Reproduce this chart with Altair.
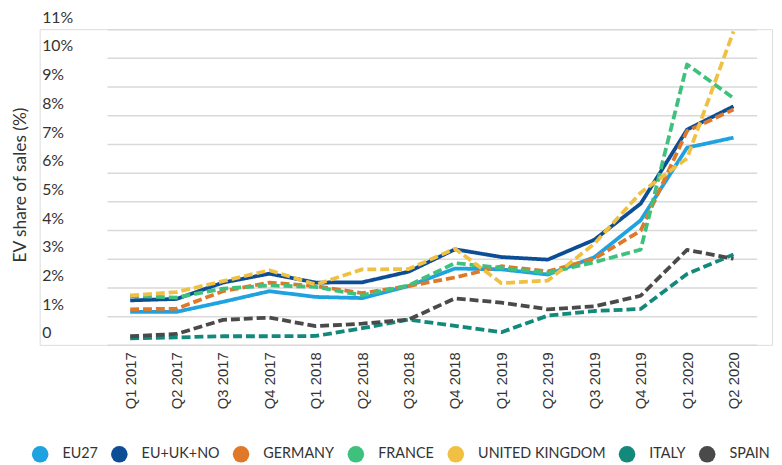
import altair as alt
import pandas as pd

quarters = ["Q1 2017", "Q2 2017", "Q3 2017", "Q4 2017", "Q1 2018", "Q2 2018", "Q3 2018",
            "Q4 2018", "Q1 2019", "Q2 2019", "Q3 2019", "Q4 2019", "Q1 2020", "Q2 2020"]

series_names = ["EU27", "EU+UK+NO", "GERMANY", "FRANCE", "UNITED KINGDOM", "ITALY", "SPAIN"]
series_colors = ["#1fa3e0", "#0c4d96", "#e0782a", "#3fc17e", "#f0c043", "#13897b", "#4a4a4a"]

eu27 = [1.15, 1.15, 1.5, 1.87, 1.67, 1.63, 2.05, 2.66, 2.63, 2.45, 3.05, 4.34, 6.87, 7.22]
eu_uk_no = [1.55, 1.6, 2.17, 2.48, 2.17, 2.18, 2.55, 3.33, 3.06, 2.97, 3.66, 4.92, 7.5, 8.31]
germany = [1.24, 1.26, 1.87, 2.17, 2.05, 1.8, 2.05, 2.35, 2.74, 2.56, 3.0, 3.98, 7.45, 8.2]
france = [1.7, 1.65, 1.96, 2.07, 2.02, 1.73, 2.07, 2.85, 2.68, 2.51, 2.88, 3.32, 9.77, 8.6]
uk = [1.72, 1.84, 2.22, 2.6, 2.1, 2.63, 2.64, 3.35, 2.15, 2.24, 3.52, 5.3, 6.5, 10.92]
italy = [0.23, 0.26, 0.3, 0.3, 0.31, 0.58, 0.88, 0.66, 0.44, 1.02, 1.18, 1.25, 2.47, 3.15]
spain = [0.3, 0.38, 0.87, 0.95, 0.65, 0.74, 0.88, 1.62, 1.47, 1.24, 1.34, 1.71, 3.31, 3.0]

y_ticks = list(range(0, 12))

all_values = [eu27, eu_uk_no, germany, france, uk, italy, spain]
rows = []
for s_i, (name, vals) in enumerate(zip(series_names, all_values)):
    for q, v in zip(quarters, vals):
        rows.append({"quarter": q, "series": name, "value": v, "order": s_i})
df = pd.DataFrame(rows)

dash_map = [[1, 0], [1, 0], [9, 4], [9, 4], [9, 4], [9, 4], [9, 4]]

x_enc = alt.X("quarter:N", sort=quarters,
              scale=alt.Scale(type="point", range=[68, 724.5]),
              axis=alt.Axis(title=None, labelAngle=-90, labelFont="Liberation Sans",
                            labelFontSize=15, labelColor="#333333", labelPadding=7,
                            ticks=False, domain=False, grid=False))
y_enc = alt.Y("value:Q",
              scale=alt.Scale(domain=[0, 11], nice=False, zero=True),
              axis=alt.Axis(title="EV share of sales (%)", values=y_ticks,
                            labelExpr="datum.value == 0 ? '0' : datum.value + '%'",
                            labelAlign="left", labelPadding=-2, tickSize=0, ticks=False,
                            labelBaseline="middle", labelOffset=-12, labelOverlap=False,
                            labelFont="Lato", labelFontSize=16, labelColor="#333333",
                            domain=False, grid=True, gridColor="#d9d9d9", gridWidth=1.5,
                            titleFont="Lato", titleFontSize=17.5, titleFontWeight="normal",
                            titleColor="#333333", titleX=-19, titleY=157,
                            titleAlign="center", titleBaseline="middle", titleAngle=-90))
color_scale = alt.Scale(domain=series_names, range=series_colors)

lines = alt.Chart(df).mark_line(strokeWidth=3.8, strokeCap="butt", strokeJoin="round").encode(
    x=x_enc,
    y=y_enc,
    color=alt.Color("series:N", sort=series_names, scale=color_scale, legend=None),
    strokeDash=alt.StrokeDash("series:N", sort=series_names,
                              scale=alt.Scale(domain=series_names, range=dash_map),
                              legend=None),
    order=alt.Order("order:Q"),
)

legend_pts = alt.Chart(df).mark_point(filled=True, opacity=0, size=1).encode(
    x=x_enc,
    y=y_enc,
    color=alt.Color("series:N", sort=series_names, scale=color_scale,
                    legend=alt.Legend(title=None, orient="none", direction="horizontal",
                                      legendX=-8, legendY=421,
                                      symbolType="circle", symbolSize=280,
                                      symbolStrokeWidth=0, symbolOpacity=1,
                                      labelFont="Lato", labelFontSize=14.5,
                                      labelColor="#333333", labelOffset=14,
                                      columnPadding=13, padding=0)),
)

chart = alt.layer(lines, legend_pts).resolve_legend(color="independent").properties(
    width=740, height=319,
    autosize=alt.AutoSizeParams(type="none"),
    padding={"left": 32, "top": 19, "right": 2, "bottom": 118},
).configure_view(stroke=None).configure(background="white")

chart.save("out.html", embed_options={"renderer": "svg", "actions": False})
